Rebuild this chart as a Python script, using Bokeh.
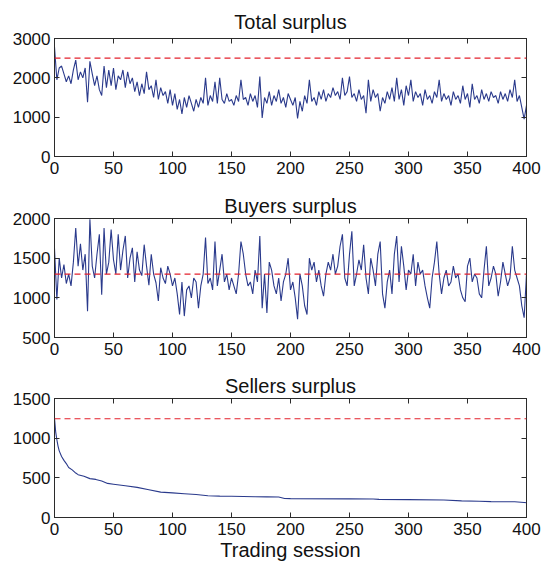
from bokeh.plotting import figure
from bokeh.layouts import column
from bokeh.models import LinearAxis, FixedTicker, Range1d, Span, Title
from bokeh.embed import file_html
from bokeh.resources import INLINE

# ---------------- data ----------------
session_step2 = list(range(0, 401, 2))

total_surplus = [
    2780, 1950, 2250, 2300, 2100, 1900, 2050, 1850, 2200, 2450, 1950, 2150, 2000, 2250, 1380, 2420, 2100, 1800, 2050, 1700, 1550, 2300, 1750, 2200, 1800,
    2250, 1700, 2050, 1950, 2200, 1750, 2150, 1850, 2000, 1650, 1900, 1550, 1850, 1600, 2150, 1700, 1800, 1500, 1950, 1450, 1750, 1550, 1650, 1350, 1700,
    1300, 1600, 1200, 1450, 1080, 1500, 1250, 1550, 1350, 1150, 1450, 1250, 1500, 1350, 2000, 1300, 1550, 1400, 1900, 1350, 2000, 1450, 1350, 1600, 1400,
    1450, 1300, 1550, 1400, 1950, 1450, 1500, 1300, 1600, 1400, 1550, 1250, 2030, 980, 1500, 1350, 1650, 1300, 1550, 1400, 1700, 1350, 1500, 1250, 1600,
    1450, 1300, 1500, 970, 1400, 1150, 1550, 1350, 1950, 1400, 1500, 1300, 1650, 1450, 1700, 1400, 1600, 1500, 1750, 1550, 1650, 1450, 2000, 1550, 1650,
    2030, 1500, 1600, 1400, 1700, 1450, 1550, 1100, 1950, 1400, 1700, 1500, 1600, 1150, 1500, 1350, 1650, 1450, 1750, 1400, 2000, 1450, 1700, 1300, 1800,
    1550, 1950, 1400, 1650, 1500, 1600, 1300, 1700, 1450, 1550, 1350, 1650, 1500, 1950, 1400, 1600, 1450, 1550, 1300, 1650, 1450, 1550, 1350, 1800, 1450,
    1600, 1250, 1850, 1450, 1550, 1350, 1700, 1450, 1600, 1400, 1650, 1500, 1550, 1350, 1650, 1450, 1600, 1400, 1700, 1500, 1950, 1400, 1550, 1250, 950,
    1300,
]

buyers_surplus = [
    1620, 980, 1500, 1250, 1420, 1180, 1300, 1150, 1450, 1880, 1400, 1680, 1350, 1550, 830, 1990, 1400, 1250, 1550, 1800, 1040, 1880, 1300, 1450, 1860,
    1480, 1300, 1800, 1350, 1600, 1780, 1250, 1500, 1630, 1200, 1580, 1350, 1280, 1670, 1400, 1160, 1550, 1300, 1190, 960, 1380, 1250, 1180, 1400, 1300,
    1150, 1250, 1050, 790, 1200, 770, 1100, 1150, 1000, 1250, 1200, 870, 1150, 1300, 1760, 1180, 1250, 1100, 1710, 1150, 1350, 1550, 1200, 1300, 1100,
    1250, 1150, 1050, 1300, 1710, 1550, 1300, 1150, 1200, 1050, 1350, 1200, 1780, 870, 1300, 810, 1450, 1350, 1150, 1050, 1250, 960, 1200, 1300, 1500,
    1100, 1200, 1000, 730, 1300, 1150, 900, 790, 1500, 1350, 1450, 1200, 1350, 1150, 1020, 1300, 1450, 1350, 1550, 1300, 1400, 1650, 1800, 1250, 1150,
    1550, 1840, 1150, 1300, 1480, 1350, 1670, 1250, 1050, 1500, 1350, 1150, 1550, 1710, 1050, 870, 1200, 1350, 1050, 1550, 1780, 1200, 1650, 1400, 1100,
    1350, 1300, 1550, 1150, 1450, 1300, 1350, 1150, 1000, 870, 1250, 1450, 1710, 1300, 1050, 1250, 1350, 1150, 1200, 1400, 1250, 1300, 1100, 1000, 950,
    1400, 1500, 1200, 1300, 1250, 1050, 1000, 1350, 1650, 1150, 1250, 1400, 1300, 1020, 1200, 1450, 1300, 1150, 1250, 1650, 1350, 1250, 1150, 900, 750,
    1300,
]

sellers_session = [0, 1, 2, 3, 4, 6, 8, 10, 12, 15, 18, 20, 25, 30, 35, 40, 45, 50, 60, 70, 80, 90, 100, 110, 120, 130, 140, 150,
                   160, 170, 180, 190, 195, 200, 250, 270, 275, 300, 330, 345, 360, 370, 390, 398, 400]
sellers_surplus = [1250, 1080, 980, 900, 840, 770, 720, 680, 630, 600, 560, 540, 520, 490, 480, 460, 430, 420, 400, 380, 350, 320,
                   310, 300, 290, 275, 270, 268, 265, 262, 260, 258, 240, 238, 235, 233, 228, 225, 220, 210, 205, 200, 198, 190, 185]

total_eq = 2500
buyers_eq = 1300
sellers_eq = 1245

x_ticks = [0, 50, 100, 150, 200, 250, 300, 350, 400]
total_ticks = [0, 1000, 2000, 3000]
buyers_ticks = [500, 1000, 1500, 2000]
sellers_ticks = [0, 500, 1000, 1500]

# ---------------- styling ----------------
FONT = "Liberation Sans"
BLUE = "#2a3a8c"
RED = "#e3202c"
EDGE = "#2b2b2b"


def style_axis(ax, ticks, show_labels=True):
    ax.ticker = FixedTicker(ticks=ticks)
    ax.major_tick_in = 5
    ax.major_tick_out = 0
    ax.minor_tick_line_color = None
    ax.major_tick_line_color = EDGE
    ax.axis_line_color = EDGE
    ax.major_label_text_font = FONT
    if show_labels:
        ax.major_label_text_font_size = "17px"
        ax.major_label_text_color = "#111111"
    else:
        ax.major_label_text_font_size = "0px"
        ax.major_label_text_color = None
        ax.major_label_standoff = 0


def make_panel(title, x, y, eq, yr, yticks, height, top, bottom, title_standoff, xlabel=None):
    p = figure(width=542, height=height, output_backend="svg", toolbar_location=None,
               x_range=Range1d(0, 400), y_range=Range1d(*yr),
               min_border_left=54, min_border_right=16,
               min_border_top=top, min_border_bottom=bottom)
    p.title = Title(text=title, align="center", text_font=FONT, text_font_size="20px",
                    text_font_style="normal", text_color="#111111", standoff=title_standoff)
    p.xgrid.visible = False
    p.ygrid.visible = False
    p.outline_line_color = EDGE
    p.outline_line_width = 1
    p.background_fill_color = "white"
    p.border_fill_color = "white"

    p.line(x, y, line_color=BLUE, line_width=1.1)
    p.add_layout(Span(location=eq, dimension="width", line_color=RED,
                      line_dash="6 4", line_width=1.2))

    xax = p.xaxis[0]
    yax = p.yaxis[0]
    style_axis(xax, x_ticks)
    style_axis(yax, yticks)
    xax.major_label_standoff = 5
    yax.major_label_standoff = 4

    if xlabel:
        xax.axis_label = xlabel
        xax.axis_label_text_font = FONT
        xax.axis_label_text_font_size = "20px"
        xax.axis_label_text_font_style = "normal"
        xax.axis_label_text_color = "#111111"
        xax.axis_label_standoff = 1

    top_ax = LinearAxis()
    style_axis(top_ax, x_ticks, show_labels=False)
    p.add_layout(top_ax, "above")
    right_ax = LinearAxis()
    style_axis(right_ax, yticks, show_labels=False)
    p.add_layout(right_ax, "right")
    return p


p1 = make_panel("Total surplus", session_step2, total_surplus, total_eq, (0, 3000), total_ticks, 188, 38, 32, 12)
p2 = make_panel("Buyers surplus", session_step2, buyers_surplus, buyers_eq, (500, 2000), buyers_ticks, 179, 30, 30, 4)
p3 = make_panel("Sellers surplus", sellers_session, sellers_surplus, sellers_eq, (0, 1500), sellers_ticks, 197, 31, 47, 4,
                xlabel="Trading session")

layout = column(p1, p2, p3, spacing=0)
open("out.html", "w").write(file_html(layout, INLINE))
